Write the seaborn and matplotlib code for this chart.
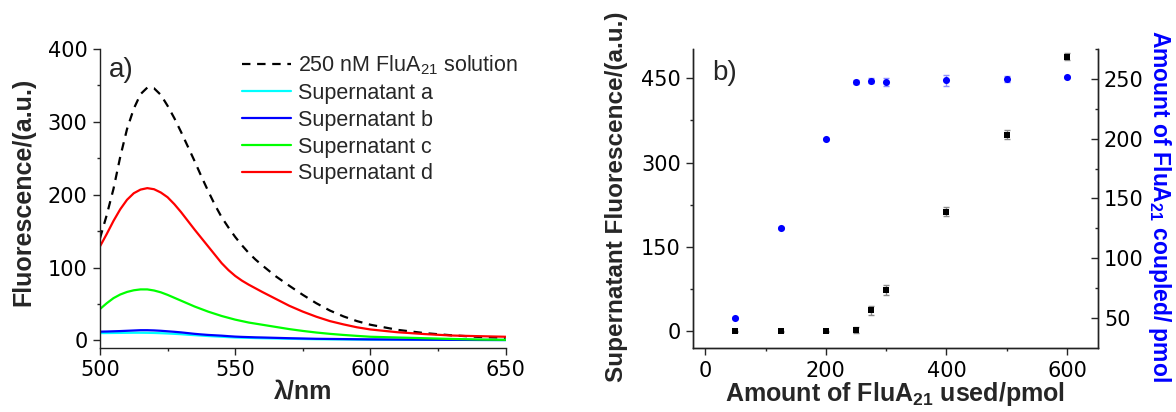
import numpy as np
import pandas as pd
import matplotlib
matplotlib.use("Agg")
import matplotlib.pyplot as plt
import seaborn as sns

# ---------------- data: panel a) ----------------
wavelength = [500, 502.5, 505, 507.5, 510, 512.5, 515, 517.5, 520, 522.5, 525,
              527.5, 530, 532.5, 535, 537.5, 540, 542.5, 545, 547.5, 550,
              552.5, 555, 557.5, 560,
              565, 570, 575, 580, 585, 590, 595, 600,
              610, 620, 630, 640, 650]
fl_solution = [140, 172, 208, 252, 290, 318, 338, 347, 346, 337, 322,
               305, 286, 266, 246, 225, 205, 186, 169, 155, 142,
               130.5, 120, 111, 103,
               88, 75, 62.5, 51, 41, 33, 26.5, 21.5,
               14.5, 10, 7, 4.8, 3.5]
fl_sup_a = [10, 10.1, 10.2, 10.3, 10.4, 10.5, 10.5, 10.4, 10.2, 9.9, 9.5,
            9, 8.5, 7.8, 7.2, 6.6, 6, 5.5, 5, 4.5, 4,
            3.7, 3.5, 3.2, 3,
            2.6, 2.2, 1.9, 1.6, 1.4, 1.3, 1.1, 1,
            0.9, 0.8, 0.7, 0.6, 0.5]
fl_sup_b = [12, 12.2, 12.5, 12.8, 13.2, 13.6, 14, 14, 13.7, 13.2, 12.5,
            11.8, 11, 10, 9, 8.2, 7.5, 7, 6.5, 5.8, 5.2,
            4.8, 4.5, 4.2, 4,
            3.5, 3, 2.6, 2.2, 2, 1.8, 1.6, 1.4,
            1.2, 1, 0.8, 0.6, 0.5]
fl_sup_c = [43, 51, 58, 63, 66.5, 68.8, 70, 70, 68.5, 66, 62.5,
            58.5, 54.5, 50.5, 46.5, 43, 39.5, 36.5, 33.5, 31, 28.5,
            26.5, 24.5, 23, 21.5,
            18.5, 15.5, 13, 10.8, 9, 7.5, 6.2, 5,
            4, 3, 2, 1.2, 0.8]
fl_sup_d = [129, 146, 164, 180, 193, 202, 207, 209, 207.5, 203, 196.5,
            187, 176, 164, 152, 140.5, 129, 117.5, 106, 96.5, 88.5,
            82, 76.5, 71.5, 66.5,
            57, 47.5, 39.5, 32.5, 26.5, 22, 18, 15,
            11.2, 8.7, 6.7, 5.8, 5]

series_names = ["250 nM FluA$_{21}$ solution", "Supernatant a", "Supernatant b",
                "Supernatant c", "Supernatant d"]
series_colors = ["black", "#00FFFF", "#0000FF", "#00FF00", "#FF0000"]

a_xticks = [500, 550, 600, 650]
a_yticks = [0, 100, 200, 300, 400]

# ---------------- data: panel b) ----------------
amount_used = [50, 125, 200, 250, 275, 300, 400, 500, 600]
sup_fluor = [0, 0, 0, 3, 38, 74, 213, 350, 488]
sup_fluor_err = [1.5, 1.5, 1.5, 5, 8, 8.5, 8, 8, 6]
coupled = [50, 125, 199.5, 247.5, 248.5, 247.5, 249, 250, 251.5]
coupled_err = [0.8, 0.8, 0.8, 2, 2, 3.5, 4.5, 2.5, 1]

b_xticks = [0, 200, 400, 600]
b_yticks = [0, 150, 300, 450]
b_y2ticks = [50, 100, 150, 200, 250]

# ---------------- style ----------------
sns.set_theme(style="ticks")
plt.rcParams["font.family"] = ["Liberation Sans", "DejaVu Sans"]
plt.rcParams["mathtext.default"] = "regular"
plt.rcParams["axes.linewidth"] = 1.0
plt.rcParams["axes.edgecolor"] = "#222222"

fig = plt.figure(figsize=(11.76, 4.12), dpi=100)
ax1 = fig.add_axes([0.0850, 0.1561, 0.3450, 0.7250])
axb = fig.add_axes([0.5895, 0.1546, 0.3439, 0.7265])

TICK_FS = 15
TICK_FAMILY = "DejaVu Sans"
LABEL_FS = 18
LEG_FS = 15.5


def style_ticks(ax, direction="out", pad=4):
    ax.tick_params(which="major", direction=direction, length=5, width=1, pad=pad,
                   labelsize=TICK_FS, labelfontfamily=TICK_FAMILY, labelcolor="black")
    ax.tick_params(which="minor", direction=direction, length=2.5, width=1)


# ---------------- panel a ----------------
rows = []
for name, vals in zip(series_names, [fl_solution, fl_sup_a, fl_sup_b, fl_sup_c, fl_sup_d]):
    for w, v in zip(wavelength, vals):
        rows.append({"wl": w, "fl": v, "series": name})
df_a = pd.DataFrame(rows)

palette = dict(zip(series_names, series_colors))
dashes = {n: "" for n in series_names}
dashes[series_names[0]] = (3.8, 3.0)
sns.lineplot(data=df_a, x="wl", y="fl", hue="series", style="series",
             hue_order=series_names, style_order=series_names,
             palette=palette, dashes=dashes, linewidth=1.6, ax=ax1, legend=False,
             sort=False)

ax1.set_xlim(500, 650)
ax1.set_ylim(-10, 400)
ax1.set_xticks(a_xticks)
ax1.set_xticks([525, 575, 625], minor=True)
ax1.set_yticks(a_yticks)
ax1.set_yticks([50, 150, 250, 350], minor=True)
sns.despine(ax=ax1)
style_ticks(ax1)
ax1.set_xlabel("λ/nm", fontsize=LABEL_FS, fontweight="bold")
ax1.set_ylabel("Fluorescence/(a.u.)", fontsize=LABEL_FS, fontweight="bold")
ax1.xaxis.set_label_coords(0.5, -0.105)
ax1.yaxis.set_label_coords(-0.158, 0.52)
ax1.text(0.021, 0.972, "a)", transform=ax1.transAxes, fontsize=20,
         ha="left", va="top")

handles = ax1.get_lines()[:len(series_names)]
ax1.legend(handles, series_names, loc="upper left", bbox_to_anchor=(0.349, 0.985),
           frameon=False, fontsize=LEG_FS, handlelength=2.3, handletextpad=0.33,
           labelspacing=0.27, borderpad=0, borderaxespad=0)

# ---------------- panel b ----------------
df_b = pd.DataFrame({"amount": amount_used, "fluor": sup_fluor,
                     "fluor_err": sup_fluor_err, "coupled": coupled,
                     "coupled_err": coupled_err})

axb.errorbar(df_b["amount"], df_b["fluor"], yerr=df_b["fluor_err"], fmt="none",
             ecolor="#8a8a8a", elinewidth=1, capsize=2.5, capthick=1, zorder=2)
sns.scatterplot(data=df_b, x="amount", y="fluor", marker="s", s=18, color="black",
                linewidth=0, ax=axb, zorder=3)
axb.set_xlim(-20, 651)
axb.set_ylim(-30, 502)
axb.set_xticks(b_xticks)
axb.set_xticks([100, 300, 500], minor=True)
axb.set_yticks(b_yticks)
axb.set_yticks([75, 225, 375], minor=True)
axb.spines["top"].set_visible(False)
style_ticks(axb)
axb.set_xlabel("Amount of FluA$_{21}$ used/pmol", fontsize=LABEL_FS, fontweight="bold")
axb.set_ylabel("Supernatant Fluorescence/(a.u.)", fontsize=17.5, fontweight="bold")
axb.xaxis.set_label_coords(0.5, -0.105)
axb.yaxis.set_label_coords(-0.161, 0.507)
axb.text(0.046, 0.962, "b)", transform=axb.transAxes, fontsize=20,
         ha="left", va="top")

axr = axb.twinx()
axr.errorbar(df_b["amount"], df_b["coupled"], yerr=df_b["coupled_err"], fmt="none",
             ecolor="#8c8cff", elinewidth=1, capsize=2.5, capthick=1, zorder=2)
sns.scatterplot(data=df_b, x="amount", y="coupled", marker="o", s=26, color="#0000FF",
                linewidth=0, ax=axr, zorder=3)
axr.set_ylim(24.6, 275.1)
axr.set_yticks(b_y2ticks)
axr.set_yticks([75, 125, 175, 225, 275], minor=True)
axr.spines["top"].set_visible(False)
style_ticks(axr, direction="in", pad=4.5)
axr.set_ylabel("Amount of FluA$_{21}$ coupled/ pmol", fontsize=16.5, fontweight="bold",
               color="#0000FF", rotation=270)
axr.yaxis.label.set_verticalalignment("bottom")
axr.yaxis.set_label_coords(1.12, 0.475)

fig.savefig("out.png", dpi=100)
